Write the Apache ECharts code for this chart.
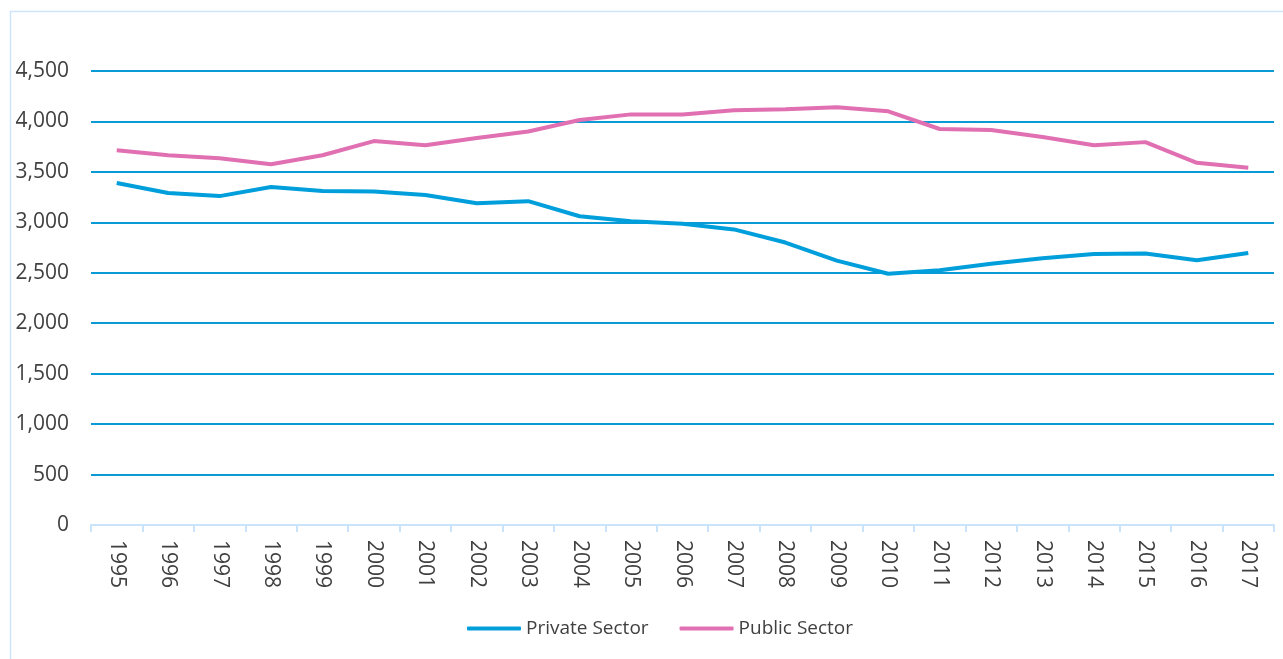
<!DOCTYPE html>
<html>
<head>
<meta charset="utf-8">
<script src="https://cdn.jsdelivr.net/npm/echarts@6/dist/echarts.min.js"></script>
<style>
  html, body { margin: 0; padding: 0; background: #fff; }
  #chart { width: 1283px; height: 659px; }
</style>
</head>
<body>
<div id="chart"></div>
<script>
// years on the x axis
const years = ['1995', '1996', '1997', '1998', '1999', '2000', '2001', '2002', '2003', '2004', '2005',
  '2006', '2007', '2008', '2009', '2010', '2011', '2012', '2013', '2014', '2015', '2016', '2017'];

const privateSector = [3390, 3290, 3260, 3350, 3310, 3305, 3270, 3190, 3210, 3060, 3010,
  2985, 2930, 2800, 2620, 2490, 2525, 2590, 2645, 2685, 2690, 2625, 2695];

const publicSector = [3715, 3665, 3635, 3575, 3665, 3805, 3765, 3835, 3900, 4015, 4070,
  4070, 4110, 4120, 4140, 4100, 3925, 3915, 3845, 3765, 3795, 3590, 3540];

const seriesNames = ['Private Sector', 'Public Sector'];

const blue = '#009fdb';
const pink = '#e070b2';
const textColor = '#404040';
const fontFamily = '"Open Sans", "Noto Sans", sans-serif';

const chart = echarts.init(document.getElementById('chart'));

chart.setOption({
  animation: false,
  textStyle: { fontFamily: fontFamily },
  graphic: [{
    type: 'rect',
    shape: { x: 10.5, y: 11.5, width: 1290, height: 660 },
    style: { fill: 'none', stroke: '#cde6fb', lineWidth: 1.5 },
    silent: true
  }],
  grid: { left: 91, right: 9, top: 71, bottom: 134, containLabel: false },
  legend: {
    bottom: 16,
    left: 462,
    icon: 'roundRect',
    itemWidth: 54,
    itemHeight: 4,
    itemGap: 31,
    textStyle: { color: textColor, fontSize: 19, fontFamily: fontFamily },
    data: seriesNames
  },
  xAxis: {
    type: 'category',
    data: years,
    boundaryGap: true,
    axisLine: { lineStyle: { color: '#c9e3fb', width: 2 } },
    axisTick: { show: true, length: 7, lineStyle: { color: '#c9e3fb', width: 2 } },
    axisLabel: {
      rotate: -90,
      color: textColor,
      fontSize: 21,
      margin: 15,
      interval: 0
    }
  },
  yAxis: {
    type: 'value',
    min: 0,
    max: 4500,
    interval: 500,
    axisLine: { show: false },
    axisTick: { show: false },
    axisLabel: {
      color: textColor,
      fontSize: 21,
      margin: 22,
      formatter: v => v.toLocaleString('en-US')
    },
    splitLine: { lineStyle: { color: '#0a9bd6', width: 2 } }
  },
  series: [
    {
      name: seriesNames[0],
      type: 'line',
      data: privateSector,
      symbol: 'none',
      itemStyle: { color: blue },
      lineStyle: { color: blue, width: 4 }
    },
    {
      name: seriesNames[1],
      type: 'line',
      data: publicSector,
      symbol: 'none',
      itemStyle: { color: pink },
      lineStyle: { color: pink, width: 4 }
    }
  ]
});
</script>
</body>
</html>
